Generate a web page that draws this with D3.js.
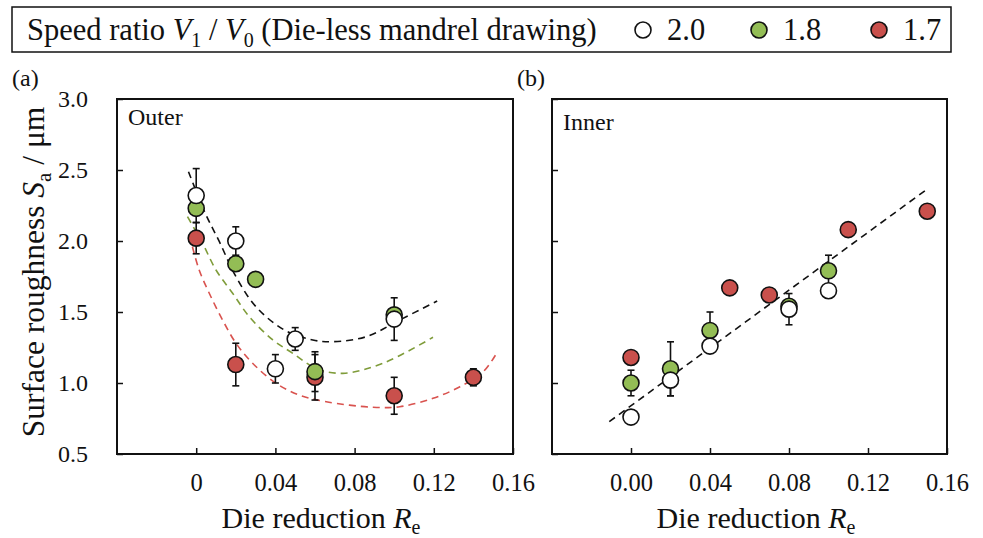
<!DOCTYPE html>
<html><head><meta charset="utf-8">
<script src="https://cdn.jsdelivr.net/npm/d3@7"></script>
<style>
body{margin:0;background:#fff;}
svg text{font-family:"Liberation Serif","Times New Roman",Times,"DejaVu Serif",serif !important;fill:#111;}
</style></head>
<body>
<script>
// ---------- data ----------
const seriesNames = ["2.0","1.8","1.7"];
const seriesFill = {"2.0":"#ffffff","1.8":"#93bd55","1.7":"#c9504c"};
const curveColor = {"2.0":"#111111","1.8":"#7f9c3a","1.7":"#d9534f"};

const xTicksA = [0,0.04,0.08,0.12,0.16];
const xTicksB = [0,0.04,0.08,0.12,0.16];
const yTicks = [0.5,1.0,1.5,2.0,2.5,3.0];

// Panel (a) Outer
const outerX20 = [0,0.02,0.04,0.05,0.10];
const outerY20 = [2.32,2.00,1.10,1.31,1.45];
const outerE20 = [0.19,0.10,0.10,0.08,0.15];
const outerX18 = [0,0.02,0.03,0.06,0.10];
const outerY18 = [2.23,1.84,1.73,1.08,1.48];
const outerE18 = [0,0,0,0.14,0];
const outerX17 = [0,0.02,0.06,0.10,0.14];
const outerY17 = [2.02,1.13,1.04,0.91,1.04];
const outerE17 = [0.11,0.15,0.16,0.13,0.06];

// fitted dashed curves
const fit20X = [-0.0039,0.0046,0.0117,0.0201,0.0302,0.0446,0.0589,0.069,0.0859,0.1028,0.1217];
const fit20Y = [2.488,2.195,1.995,1.749,1.537,1.373,1.303,1.291,1.326,1.444,1.577];
const fit18X = [-0.0044,0.0032,0.0100,0.0184,0.0268,0.0387,0.0488,0.0606,0.0741,0.0943,0.1196];
const fit18Y = [2.171,1.984,1.796,1.632,1.467,1.303,1.209,1.103,1.068,1.139,1.322];
const fit17X = [-0.0019,0.0015,0.0066,0.0133,0.0201,0.0285,0.0403,0.0522,0.0657,0.0893,0.1028,0.1196,0.1332,0.1450,0.1517];
const fit17Y = [1.960,1.796,1.632,1.444,1.280,1.139,0.998,0.915,0.868,0.829,0.833,0.892,0.974,1.080,1.209];

// Panel (b) Inner
const innerX20 = [0,0.02,0.04,0.08,0.10];
const innerY20 = [0.76,1.02,1.26,1.52,1.65];
const innerE20 = [0,0.11,0,0.11,0];
const innerX18 = [0,0.02,0.04,0.08,0.10];
const innerY18 = [1.00,1.10,1.37,1.54,1.79];
const innerE18 = [0.09,0.19,0.13,0,0.11];
const innerX17 = [0,0.05,0.07,0.11,0.15];
const innerY17 = [1.18,1.67,1.62,2.08,2.21];
const innerE17 = [0,0,0,0,0];
const lineBX = [-0.011,0.150];
const lineBY = [0.728,2.366];

// ---------- drawing ----------
const FONT = '"Liberation Serif","Times New Roman",Times,"DejaVu Serif",serif';
const svg = d3.select("body").append("svg").attr("width",983).attr("height",538)
  .attr("font-family",FONT);

const y = d3.scaleLinear().domain([0.5,3.0]).range([454,99]);
const xA = d3.scaleLinear().domain([-0.04,0.16]).range([117,513]);
const xB = d3.scaleLinear().domain([-0.04,0.16]).range([552,947]);

function zip(xs,ys,es){return xs.map((v,i)=>({x:v,y:ys[i],e:es?es[i]:0}));}

function panel(x, xTicks, fmt, showY, label, sets, curves){
  const g = svg.append("g");
  const [x0,x1] = x.range();
  const ax = g.append("g").attr("transform","translate(0,454)")
    .call(d3.axisBottom(x).tickValues(xTicks).tickSize(-6).tickPadding(20).tickFormat(fmt));
  ax.attr("font-family",FONT);
  ax.select(".domain").remove();
  ax.selectAll("line").attr("stroke","#111").attr("stroke-width",1.5);
  ax.selectAll("text").style("font-size","24.5px").style("font-family",FONT).attr("fill","#111");
  const ay = g.append("g").attr("transform",`translate(${x0},0)`)
    .call(d3.axisLeft(y).tickValues(yTicks).tickSize(-6).tickPadding(29)
      .tickFormat(showY?d3.format(".1f"):()=>""));
  ay.attr("font-family",FONT);
  ay.select(".domain").remove();
  ay.selectAll("line").attr("stroke","#111").attr("stroke-width",1.5);
  ay.selectAll("text").style("font-size","24px").style("font-family",FONT).attr("fill","#111");
  g.append("rect").attr("x",x0).attr("y",99).attr("width",x1-x0).attr("height",454-99)
    .attr("fill","none").attr("stroke","#111").attr("stroke-width",2);
  g.append("text").attr("x",x0+11).attr("y",label==="Outer"?125:130)
    .style("font-size","24px").style("font-family",FONT).text(label);
  const ln = d3.line().x(d=>x(d.x)).y(d=>y(d.y)).curve(d3.curveCatmullRom);
  curves.forEach(c=>{
    g.append("path").datum(c.pts).attr("d",ln).attr("fill","none")
      .attr("stroke",c.color).attr("stroke-width",1.6).attr("stroke-dasharray","7,5");
  });
  sets.forEach(s=>{
    s.pts.filter(d=>d.e>0).forEach(d=>{
      const cx=x(d.x), ya=y(d.y+d.e), yb=y(d.y-d.e);
      g.append("line").attr("x1",cx).attr("x2",cx).attr("y1",ya).attr("y2",yb).attr("stroke","#111").attr("stroke-width",1.6);
      [ya,yb].forEach(yy=>g.append("line").attr("x1",cx-3.5).attr("x2",cx+3.5).attr("y1",yy).attr("y2",yy).attr("stroke","#111").attr("stroke-width",1.6));
    });
  });
  sets.forEach(s=>{
    g.selectAll(null).data(s.pts).join("circle")
      .attr("cx",d=>x(d.x)).attr("cy",d=>y(d.y)).attr("r",8)
      .attr("fill",seriesFill[s.name]).attr("stroke","#111").attr("stroke-width",1.6);
  });
}

panel(xA, xTicksA, d=>d===0?"0":d3.format(".2f")(d), true, "Outer",
  [{name:"1.7",pts:zip(outerX17,outerY17,outerE17)},
   {name:"1.8",pts:zip(outerX18,outerY18,outerE18)},
   {name:"2.0",pts:zip(outerX20,outerY20,outerE20)}],
  [{color:curveColor["2.0"],pts:zip(fit20X,fit20Y)},
   {color:curveColor["1.8"],pts:zip(fit18X,fit18Y)},
   {color:curveColor["1.7"],pts:zip(fit17X,fit17Y)}]);

panel(xB, xTicksB, d3.format(".2f"), false, "Inner",
  [{name:"1.7",pts:zip(innerX17,innerY17,innerE17)},
   {name:"1.8",pts:zip(innerX18,innerY18,innerE18)},
   {name:"2.0",pts:zip(innerX20,innerY20,innerE20)}],
  [{color:"#111111",pts:zip(lineBX,lineBY)}]);

function txt(x,y,size){return svg.append("text").attr("x",x).attr("y",y).style("font-size",size+"px").style("font-family",FONT);}

txt(12,86,24).text("(a)");
txt(517,86,24).text("(b)");

function xTitle(cx){
  const t = txt(cx,528,30).attr("text-anchor","middle");
  t.append("tspan").text("Die reduction ");
  t.append("tspan").style("font-style","italic").text("R");
  t.append("tspan").attr("dy",6).style("font-size","20px").text("e");
}
xTitle(321); xTitle(756);

const yt = svg.append("text").attr("transform","translate(44,272) rotate(-90)")
  .attr("text-anchor","middle").style("font-size","31.5px").style("font-family",FONT);
yt.append("tspan").text("Surface roughness ");
yt.append("tspan").style("font-style","italic").text("S");
yt.append("tspan").attr("dy",7).style("font-size","21px").text("a");
yt.append("tspan").attr("dy",-7).text(" / μm");

svg.append("rect").attr("x",12).attr("y",7).attr("width",939).attr("height",45)
  .attr("fill","#fff").attr("stroke","#111").attr("stroke-width",1.5);
const lt = txt(27,40,30.5);
lt.append("tspan").text("Speed ratio ");
lt.append("tspan").style("font-style","italic").text("V");
lt.append("tspan").attr("dy",7).style("font-size","20px").text("1");
lt.append("tspan").attr("dy",-7).text(" / ");
lt.append("tspan").style("font-style","italic").text("V");
lt.append("tspan").attr("dy",7).style("font-size","20px").text("0");
lt.append("tspan").attr("dy",-7).text(" (Die-less mandrel drawing)");
const legX = [643,759,879];
seriesNames.forEach((n,i)=>{
  svg.append("circle").attr("cx",legX[i]).attr("cy",30).attr("r",8)
    .attr("fill",seriesFill[n]).attr("stroke","#111").attr("stroke-width",1.6);
  txt(legX[i]+24,40,30.5).text(n);
});
</script>
</body></html>
